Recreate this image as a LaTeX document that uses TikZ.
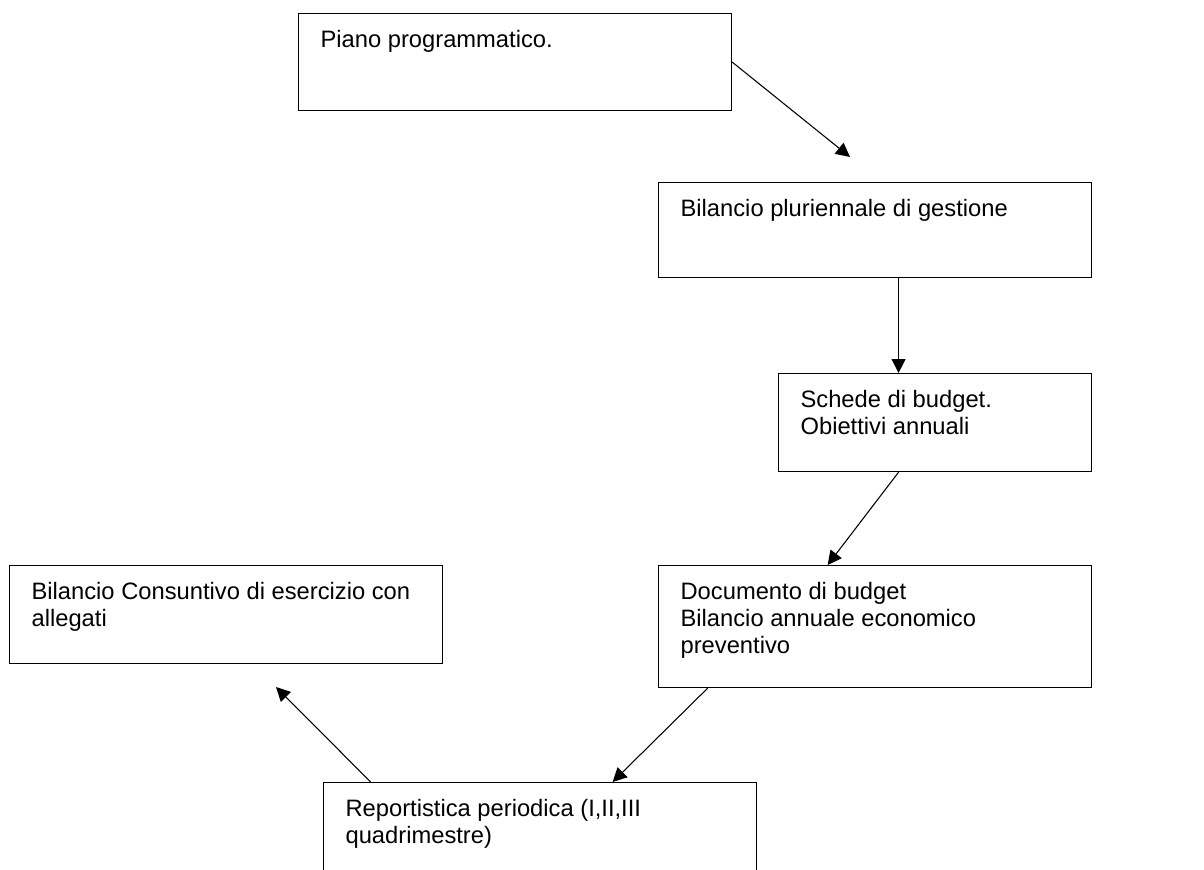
\documentclass[tikz,border=0pt]{standalone}
\usepackage{fontspec}
\setmainfont{Liberation Sans}
\usetikzlibrary{arrows.meta}
\newcommand\boxtxt[3]{\parbox[t][#2][t]{#1}{\raggedright #3}}
\begin{document}
\begin{tikzpicture}[x=0.75pt,y=-0.75pt,
  box/.style={draw=black,line width=0.9pt,anchor=north west,inner xsep=16.5pt,inner ysep=12.5pt,
    font=\fontsize{17.8pt}{20.3pt}\selectfont},
  arr/.style={line width=0.8pt,-{Triangle[length=10.5pt,width=10.5pt]}}]
\useasboundingbox (0,0) rectangle (1204,870);
\clip (0,0) rectangle (1204,870);
\fill[white] (0,0) rectangle (1204,870);
\node[box] (b1) at (298,13) {\boxtxt{291.75pt}{47.75pt}{Piano programmatico.}};
\node[box] (b2) at (658,182) {\boxtxt{291.75pt}{46.25pt}{Bilancio pluriennale di gestione}};
\node[box] (b3) at (778,373) {\boxtxt{201.75pt}{48.5pt}{Schede di budget.\\Obiettivi annuali}};
\node[box] (b4) at (658,565) {\boxtxt{291.75pt}{66.5pt}{Documento di budget\\Bilancio annuale economico\\preventivo}};
\node[box] (b5) at (9,565) {\boxtxt{291.75pt}{48.5pt}{Bilancio Consuntivo di esercizio con\\allegati}};
\node[box] (b6) at (323,782) {\boxtxt{291.75pt}{63.5pt}{Reportistica periodica (I,II,III\\quadrimestre)}};
\coordinate (e1) at (850,157);
\coordinate (e5) at (276,687);
\draw[arr] (b1.east) -- (e1);
\draw[arr] ([xshift=17.6pt]b2.south) -- ([xshift=-27.4pt]b3.north);
\draw[arr] ([xshift=-27.4pt]b3.south) -- ([xshift=-35.6pt]b4.north);
\draw[arr] ([xshift=-125.6pt]b4.south) -- ([xshift=54.4pt]b6.north);
\draw[arr] ([xshift=-127.1pt]b6.north) -- (e5);
\end{tikzpicture}
\end{document}
